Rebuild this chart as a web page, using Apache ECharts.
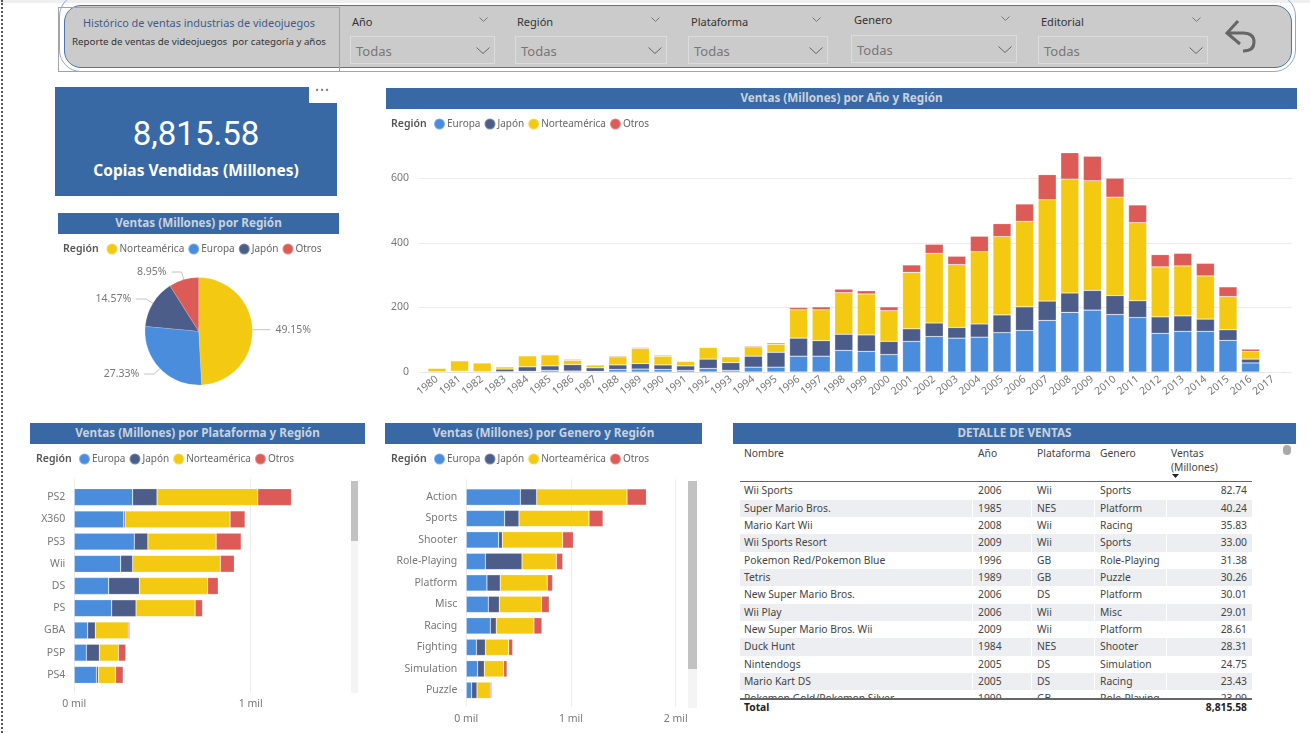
<!DOCTYPE html>
<html>
<head>
<meta charset="utf-8">
<title>Ventas videojuegos</title>
<script src="https://cdn.jsdelivr.net/npm/echarts@6/dist/echarts.min.js"></script>
<style>
    html, body { margin: 0; padding: 0; background: #fff; }
    #page { position: relative; width: 1310px; height: 733px; overflow: hidden; font-family: "Noto Sans", sans-serif; }
    #page div, #page svg { position: absolute; box-sizing: border-box; }
    #chart { left: 0; top: 0; width: 1310px; height: 733px; }
    #table, #slicers { left: 0; top: 0; width: 1310px; height: 733px; }
    .bar { background: #3869a4; color: #c9d2de; font-weight: 700; font-size: 11.7px; height: 21px; line-height: 18px; text-align: center; }
    .slabel { font-size: 11px; color: #333; white-space: nowrap; }
    .sbox { border: 1.5px solid #dcdcdc; color: #777; font-size: 13px; line-height: 28px; padding-left: 5px; }
    .cell { font-size: 10.3px; color: #444; white-space: nowrap; line-height: 17px; height: 17px; }
    .row { left: 740px; width: 512px; height: 17.33px; }
    .sep { width: 1px; background: #fff; top: 0; bottom: 0; }
</style>
</head>
<body>
<div id="page">
    <div style="left:0;top:0;width:1310px;height:3px;background:#efefef"></div>
    <div style="left:1px;top:0;width:2px;height:733px;border-left:2px dotted #555"></div>

    <div style="left:59px;top:-6px;width:1237px;height:78px;border:1px solid #8fa8cc;border-radius:22px"></div>
    <div style="left:64px;top:5px;width:1228px;height:63px;background:#cbcbcb;border:1.5px solid #4c74ad;border-radius:17px"></div>
    <div style="left:58px;top:7px;width:282px;height:65px;border:1px solid #a3a3a3"></div>
    <div style="left:60px;top:15px;width:278px;text-align:center;font-size:10.9px;color:#3d5c8d">Histórico de ventas industrias de videojuegos</div>
    <div style="left:60px;top:35px;width:278px;text-align:center;font-size:9.75px;color:#333;white-space:pre">Reporte de ventas de videojuegos  por categoría y años</div>
    <div id="slicers"></div>
    <svg style="left:0;top:0" width="1310" height="733" fill="none">
        <path d="M1238 21 L1227 33 L1240 44 M1227 33 H1243 Q1254 33 1254 42 Q1254 51 1243 51" stroke="#666" stroke-width="3"/>
    </svg>

    <div style="left:55px;top:87px;width:282px;height:109px;background:#3869a4"></div>
    <div style="left:309px;top:87px;width:28px;height:16px;background:#fff;color:#666;font-size:8px;letter-spacing:2px;text-align:center;line-height:5px">•••</div>
    <div style="left:55px;top:113px;width:282px;text-align:center;color:#fff;font-family:Roboto;font-size:33px;line-height:42px">8,815.58</div>
    <div style="left:55px;top:160px;width:282px;text-align:center;color:#fff;font-weight:700;font-size:15.5px;line-height:20px">Copias Vendidas (Millones)</div>

    <div class="bar" style="left:386px;top:88px;width:911px">Ventas (Millones) por Año y Región</div>
    <div class="bar" style="left:58px;top:213px;width:281px">Ventas (Millones) por Región</div>
    <div class="bar" style="left:30px;top:423px;width:335px">Ventas (Millones) por Plataforma y Región</div>
    <div class="bar" style="left:385px;top:423px;width:317px">Ventas (Millones) por Genero y Región</div>
    <div class="bar" style="left:733px;top:423px;width:563px">DETALLE DE VENTAS</div>

    <div style="left:351px;top:481px;width:7px;height:212px;background:#f4f4f4"></div>
    <div style="left:351px;top:481px;width:7px;height:60px;background:#c2c2c2"></div>
    <div style="left:688px;top:481px;width:9px;height:227px;background:#f4f4f4"></div>
    <div style="left:688px;top:481px;width:9px;height:188px;background:#c2c2c2"></div>

    <div id="table"></div>
    <div id="chart"></div>
</div>
<script>
var regiones = ['Europa', 'Japón', 'Norteamérica', 'Otros'];
var colores = ['#4a8ddc', '#4c5d8a', '#f3c911', '#dc5b57'];

// ventas por año
var anios = ['1980','1981','1982','1983','1984','1985','1986','1987','1988','1989','1990','1991','1992','1993','1994','1995','1996','1997','1998','1999','2000','2001','2002','2003','2004','2005','2006','2007','2008','2009','2010','2011','2012','2013','2014','2015','2016','2017'];
var europaAnio = [0.5,2,1,1,2,5,3,2,8,9,8,5,11,5,15,15,49,49,67,64,54,95,110,105,108,122,129,160,185,192,178,169,120,126,126,98,28,0];
var japonAnio = [0,0.5,0,8,14,14,20,11,14,17,14,14,29,24,34,46,56,48,50,51,41,39,42,33,41,55,73,60,60,61,59,52,51,48,38,33,12,0.1];
var norteAnio = [11,32,27,7,34,34,13,9,25,47,27,14,36,18,29,25,88,96,129,127,95,175,216,195,224,243,265,314,353,340,305,242,155,155,134,103,24,0];
var otrosAnio = [0.6,2,1,1,2,2,3,1,3,3,3,1,2,1,3,4,7,9,11,10,12,23,28,26,48,40,54,78,82,76,59,55,38,39,39,30,7,0];

// ventas por plataforma
var plataformas = ['PS2','X360','PS3','Wii','DS','PS','GBA','PSP','PS4'];
var europaPlat = [331,280,340,263,195,212,76,68,125];
var japonPlat = [138,8,77,68,174,138,43,74,11];
var nortePlat = [571,595,387,497,387,335,187,108,98];
var otrosPlat = [191,85,142,79,60,42,8,42,43];

// ventas por genero
var generos = ['Action','Sports','Shooter','Role-Playing','Platform','Misc','Racing','Fighting','Simulation','Puzzle'];
var europaGen = [516,366,309,182,197,210,229,96,108,51];
var japonGen = [156,137,35,350,127,105,57,86,64,51];
var norteGen = [863,669,576,328,449,404,360,223,185,127];
var otrosGen = [185,134,102,61,51,73,76,38,32,13];

// pastel
var pieNombres = ['Norteamérica', 'Europa', 'Japón', 'Otros'];
var pieValores = [49.15, 27.33, 14.57, 8.95];
var pieColores = ['#f3c911', '#4a8ddc', '#4c5d8a', '#dc5b57'];

// tabla
var tablaNombre = ['Wii Sports','Super Mario Bros.','Mario Kart Wii','Wii Sports Resort','Pokemon Red/Pokemon Blue','Tetris','New Super Mario Bros.','Wii Play','New Super Mario Bros. Wii','Duck Hunt','Nintendogs','Mario Kart DS','Pokemon Gold/Pokemon Silver'];
var tablaAnio = ['2006','1985','2008','2009','1996','1989','2006','2006','2009','1984','2005','2005','1999'];
var tablaPlat = ['Wii','NES','Wii','Wii','GB','GB','DS','Wii','Wii','NES','DS','DS','GB'];
var tablaGen = ['Sports','Platform','Racing','Sports','Role-Playing','Puzzle','Platform','Misc','Platform','Shooter','Simulation','Racing','Role-Playing'];
var tablaVentas = ['82.74','40.24','35.83','33.00','31.38','30.26','30.01','29.01','28.61','28.31','24.75','23.43','23.09'];

// filtros: texto, x texto, x caja, ancho caja, y caja, y texto
var filtros = [
    ['Año', 352, 350, 145, 36, 14],
    ['Región', 517, 515, 152, 36, 14],
    ['Plataforma', 691, 688, 140, 36, 14],
    ['Genero', 854, 851, 166, 35, 12],
    ['Editorial', 1041, 1038, 170, 36, 14]
];

function chevron(x, y, w, h, c) {
    return '<svg style="left:' + x + 'px;top:' + y + 'px" width="' + w + '" height="' + h + '" fill="none"><path d="M0.5 0.5 L' + w / 2 + ' ' + (h - 0.5) + ' L' + (w - 0.5) + ' 0.5" stroke="' + c + '"/></svg>';
}

var sl = '';
filtros.forEach(function (f) {
    sl += '<div class="slabel" style="left:' + f[1] + 'px;top:' + f[5] + 'px">' + f[0] + '</div>';
    sl += '<div class="sbox" style="left:' + f[2] + 'px;top:' + f[4] + 'px;width:' + f[3] + 'px;height:28px">Todas</div>';
    sl += chevron(f[2] + f[3] - 16, f[4] - 19, 9, 5, '#777');
    sl += chevron(f[2] + f[3] - 19, f[4] + 11, 14, 7, '#666');
});
document.getElementById('slicers').innerHTML = sl;

var colX = [744, 978, 1037, 1100];
var tb = '';
['Nombre', 'Año', 'Plataforma', 'Genero'].forEach(function (t, i) {
    tb += '<div class="cell" style="left:' + colX[i] + 'px;top:445px">' + t + '</div>';
});
tb += '<div class="cell" style="left:1171px;top:445px">Ventas</div>';
tb += '<div class="cell" style="left:1171px;top:459px">(Millones)</div>';
tb += '<svg style="left:1172px;top:474px" width="7" height="5"><path d="M0 0 H7 L3.5 4 Z" fill="#222"/></svg>';
tb += '<div style="left:740px;top:481px;width:512px;height:1.5px;background:#666"></div>';
tb += '<div style="left:1283px;top:445px;width:8px;height:10px;background:#aaa;border-radius:4px"></div>';
tb += '<div style="left:0;top:482px;width:1310px;height:216px;overflow:hidden">';
tablaNombre.forEach(function (n, i) {
    var y = i * 17.33 + 0.3;
    tb += '<div class="row" style="top:' + y + 'px;background:' + (i % 2 ? '#eceef1' : '#fff') + '">';
    [232, 291, 354, 426].forEach(function (x) { tb += '<div class="sep" style="left:' + x + 'px"></div>'; });
    tb += '</div>';
    [n, tablaAnio[i], tablaPlat[i], tablaGen[i]].forEach(function (t, j) {
        tb += '<div class="cell" style="left:' + colX[j] + 'px;top:' + y + 'px">' + t + '</div>';
    });
    tb += '<div class="cell" style="right:63px;top:' + y + 'px">' + tablaVentas[i] + '</div>';
});
tb += '</div>';
tb += '<div style="left:740px;top:698px;width:512px;height:1.5px;background:#666"></div>';
tb += '<div class="cell" style="left:744px;top:699px;font-weight:700;color:#222">Total</div>';
tb += '<div class="cell" style="right:63px;top:699px;font-weight:700;color:#222">8,815.58</div>';
document.getElementById('table').innerHTML = tb;

var fuente = '"Noto Sans", sans-serif';
var gris = '#777';
var linea = '#ececec';

function leyenda(names, left, top) {
    return {
        data: names, left: left, top: top - 5.5, orient: 'horizontal', padding: 0,
        icon: 'circle', itemWidth: 11, itemHeight: 11, itemGap: 3, selectedMode: false,
        textStyle: { color: '#666', fontSize: 10, fontFamily: fuente, padding: [0, 0, 0, -3] }
    };
}

function milLabel(v) { return (v / 1000) + ' mil'; }

function apilar(datos, xi, yi, stack) {
    return regiones.map(function (r, i) {
        return {
            name: r, type: 'bar', stack: stack, xAxisIndex: xi, yAxisIndex: yi,
            barCategoryGap: stack === 'anio' ? '20%' : '24%',
            itemStyle: { color: colores[i], borderColor: 'rgba(255,255,255,0.3)', borderWidth: 0.6 },
            data: datos[i]
        };
    });
}

var grids = [
    { left: 419, width: 873, top: 146.25, height: 225.75 },
    { left: 425.7, width: 858.8, top: 146.25, height: 225.75 },
    { left: 74.3, width: 264.6, top: 479, height: 214 },
    { left: 74.3, width: 264.6, top: 486, height: 200 },
    { left: 466.3, width: 209.4, top: 479.3, height: 227.4 },
    { left: 466.3, width: 209.4, top: 486.3, height: 214.7 }
];

var oculto = { show: false };
var xAxes = [
    // años
    { gridIndex: 0, type: 'category', show: false },
    { gridIndex: 1, type: 'category', data: anios, axisTick: oculto,
      axisLine: { lineStyle: { color: '#e3e3e3' } },
      axisLabel: { color: gris, fontSize: 10.5, fontFamily: fuente, rotate: 38, interval: 0, margin: 6 } },
    // plataforma
    { gridIndex: 2, type: 'value', min: 0, max: 1500, interval: 1000, axisLine: oculto, axisTick: oculto,
      splitLine: { showMaxLine: false, lineStyle: { color: linea } },
      axisLabel: { color: gris, fontSize: 10.5, fontFamily: fuente, formatter: milLabel, showMaxLabel: false, margin: 6 } },
    { gridIndex: 3, type: 'value', min: 0, max: 1500, show: false },
    // genero
    { gridIndex: 4, type: 'value', min: 0, max: 2000, interval: 1000, axisLine: oculto, axisTick: oculto,
      splitLine: { lineStyle: { color: linea } },
      axisLabel: { color: gris, fontSize: 10.5, fontFamily: fuente, formatter: milLabel, margin: 7 } },
    { gridIndex: 5, type: 'value', min: 0, max: 2000, show: false }
];
var yAxes = [
    { gridIndex: 0, type: 'value', min: 0, max: 700, interval: 200, axisLine: oculto, axisTick: oculto,
      splitLine: { showMaxLine: false, lineStyle: { color: linea } },
      axisLabel: { color: gris, fontSize: 10.5, fontFamily: fuente, showMaxLabel: false, margin: 10, padding: [2, 0, 0, 0] } },
    { gridIndex: 1, type: 'value', min: 0, max: 700, show: false },
    { gridIndex: 2, type: 'category', show: false },
    { gridIndex: 3, type: 'category', data: plataformas, inverse: true, axisLine: oculto, axisTick: oculto,
      axisLabel: { color: gris, fontSize: 10.5, fontFamily: fuente, interval: 0, margin: 9, padding: [2, 0, 0, 0] } },
    { gridIndex: 4, type: 'category', show: false },
    { gridIndex: 5, type: 'category', data: generos, inverse: true, axisLine: oculto, axisTick: oculto,
      axisLabel: { color: gris, fontSize: 10.5, fontFamily: fuente, interval: 0, margin: 9, padding: [2, 0, 0, 0] } }
];

var regionText = [[391, 123], [63, 248], [36, 458], [391, 458]].map(function (p) {
    return {
        type: 'text', left: p[0], top: p[1] - 4,
        style: { text: 'Región', fill: '#555', font: '600 10.5px ' + fuente }
    };
});

var series = []
    .concat(apilar([europaAnio, japonAnio, norteAnio, otrosAnio], 1, 1, 'anio'))
    .concat(apilar([europaPlat, japonPlat, nortePlat, otrosPlat], 3, 3, 'plat'))
    .concat(apilar([europaGen, japonGen, norteGen, otrosGen], 5, 5, 'gen'));

series.push({
    type: 'pie',
    center: [198.7, 331.3],
    radius: 53.7,
    startAngle: 90,
    clockwise: true,
    label: { color: gris, fontSize: 10.5, fontFamily: fuente, formatter: '{c}%' },
    labelLine: { length: 8, length2: 10, lineStyle: { color: '#c4c4c4' } },
    itemStyle: { borderColor: 'rgba(255,255,255,0.3)', borderWidth: 0.5 },
    data: pieNombres.map(function (n, i) {
        return { name: n, value: pieValores[i], itemStyle: { color: pieColores[i] } };
    })
});

var chart = echarts.init(document.getElementById('chart'));
chart.setOption({
    animation: false,
    tooltip: {},
    grid: grids,
    xAxis: xAxes,
    yAxis: yAxes,
    legend: [
        leyenda(regiones, 433, 123),
        leyenda(pieNombres, 105.5, 248),
        leyenda(regiones, 78, 458),
        leyenda(regiones, 433, 458)
    ],
    graphic: regionText,
    series: series
});
</script>
</body>
</html>
